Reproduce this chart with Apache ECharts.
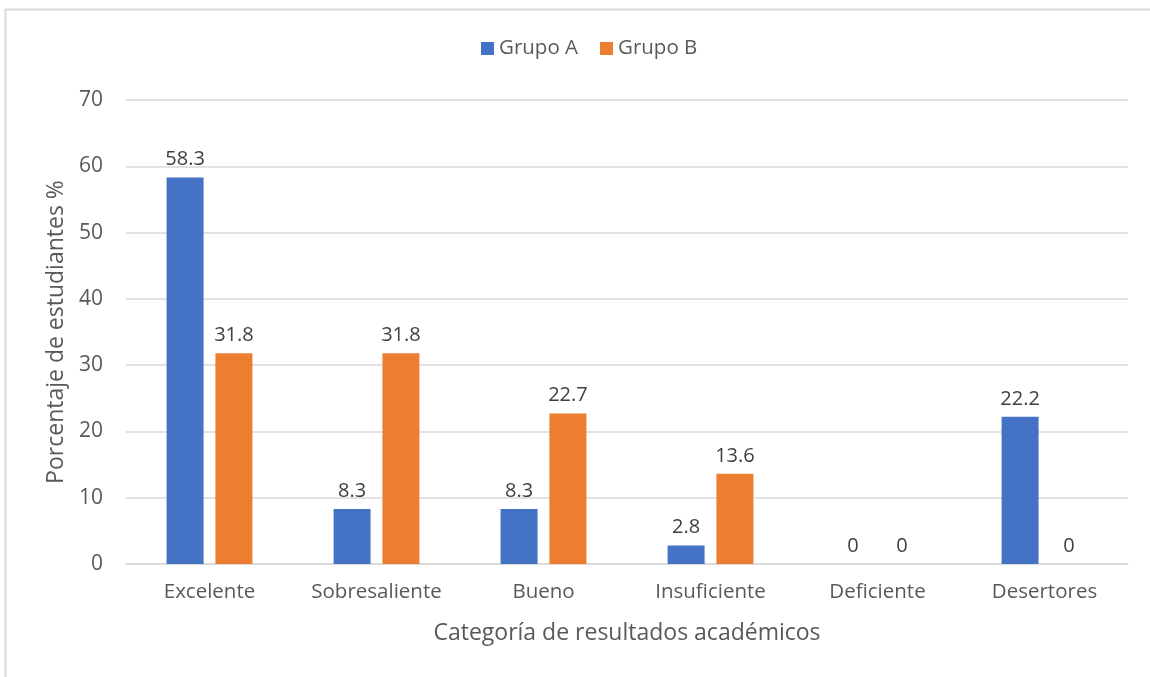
<!DOCTYPE html>
<html>
<head>
<meta charset="utf-8">
<script src="https://cdn.jsdelivr.net/npm/echarts@6/dist/echarts.min.js"></script>
<style>
  html, body { margin: 0; padding: 0; background: #fff; }
  #main { width: 1150px; height: 677px; }
</style>
</head>
<body>
<div id="main"></div>
<script>
var categories = ["Excelente", "Sobresaliente", "Bueno", "Insuficiente", "Deficiente", "Desertores"];
var grupoA = [58.3, 8.3, 8.3, 2.8, 0, 22.2];
var grupoB = [31.8, 31.8, 22.7, 13.6, 0, 0];

var txt = "#595959";
var font = "'Open Sans', 'Liberation Sans', sans-serif";

var myChart = echarts.init(document.getElementById("main"));

function barSeries(name, data, color) {
  return {
    name: name,
    type: "bar",
    data: data,
    barWidth: 37,
    barGap: "32%",
    itemStyle: { color: color },
    label: {
      show: true,
      position: "top",
      distance: 8,
      color: "#404040",
      fontSize: 20,
      fontFamily: font
    }
  };
}

myChart.setOption({
  animation: false,
  textStyle: { fontFamily: font },
  graphic: [{
    type: "rect",
    shape: { x: 5.5, y: 9.5, width: 1200, height: 700 },
    style: { fill: "none", stroke: "#d9d9d9", lineWidth: 2 },
    silent: true
  }],
  legend: {
    top: 33,
    left: 476,
    itemWidth: 13,
    itemHeight: 13,
    itemGap: 22,
    icon: "rect",
    textStyle: { color: txt, fontSize: 20.5, fontFamily: font },
    data: ["Grupo A", "Grupo B"]
  },
  grid: { left: 126, right: 22, top: 100, bottom: 113, containLabel: false },
  xAxis: {
    type: "category",
    data: categories,
    axisLine: { lineStyle: { color: "#d9d9d9", width: 1.5 } },
    axisTick: { show: false },
    axisLabel: { color: txt, fontSize: 20.5, margin: 18, interval: 0, fontFamily: font },
    name: "Categoría de resultados académicos",
    nameLocation: "middle",
    nameGap: 58,
    nameTextStyle: { color: txt, fontSize: 23, fontFamily: font }
  },
  yAxis: {
    type: "value",
    min: 0,
    max: 70,
    interval: 10,
    axisLine: { show: false },
    axisTick: { show: false },
    splitLine: { lineStyle: { color: "#d9d9d9", width: 1.5 } },
    axisLabel: { color: txt, fontSize: 21, margin: 23, fontFamily: font },
    name: "Porcentaje de estudiantes %",
    nameLocation: "middle",
    nameGap: 56,
    nameTextStyle: { color: txt, fontSize: 23, fontFamily: font }
  },
  series: [
    barSeries("Grupo A", grupoA, "#4472c4"),
    barSeries("Grupo B", grupoB, "#ed7d31")
  ]
});
</script>
</body>
</html>
